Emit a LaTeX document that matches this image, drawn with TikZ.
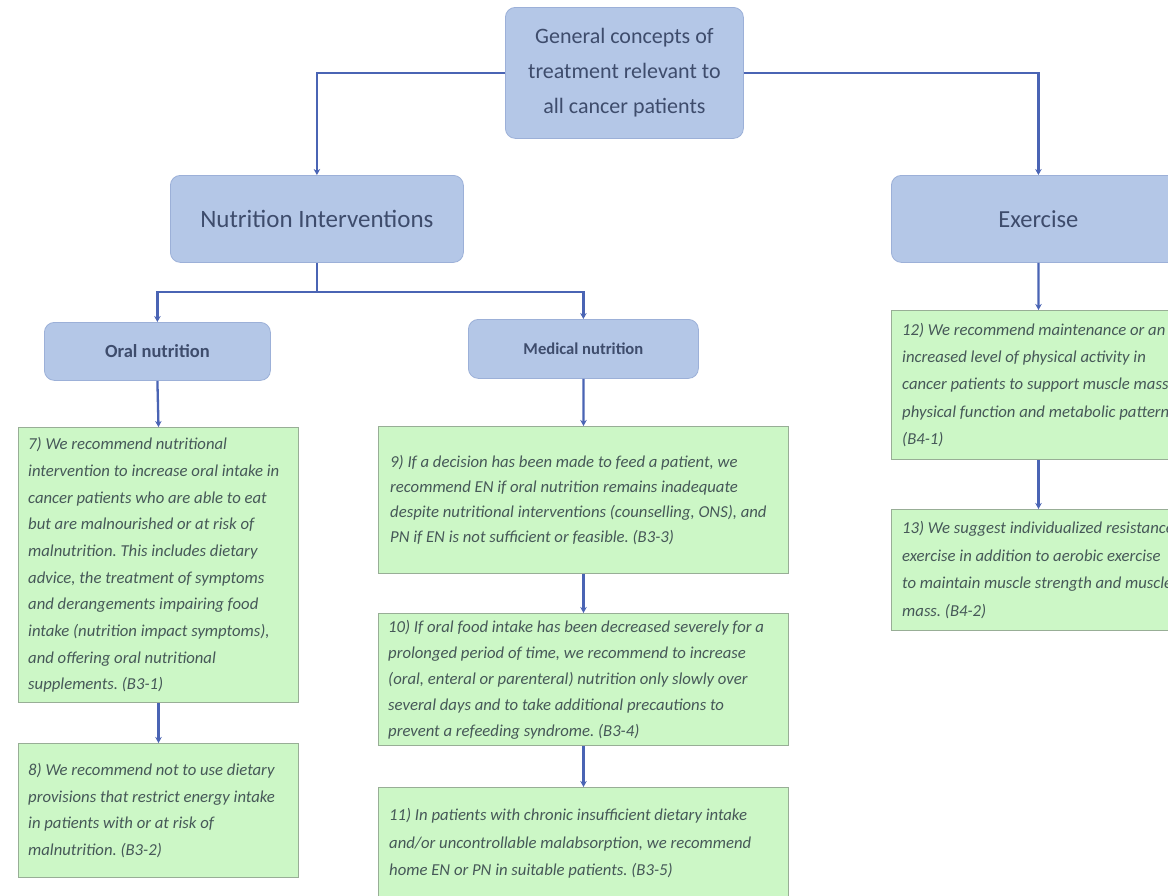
\documentclass[tikz,border=0pt]{standalone}
\usepackage{fontspec}
\setmainfont{Carlito}
\usetikzlibrary{arrows.meta}
\definecolor{bluefill}{HTML}{B4C7E7}
\definecolor{blueedge}{HTML}{9CB0D8}
\definecolor{bluetext}{HTML}{3E4C6C}
\definecolor{greenfill}{HTML}{CCF7C6}
\definecolor{greenedge}{HTML}{98AE96}
\definecolor{greentext}{HTML}{465858}
\definecolor{connblue}{HTML}{4A64B4}
\frenchspacing
\tikzset{
  bluebox/.style={draw=blueedge, line width=0.8pt, fill=bluefill, rounded corners=10pt,
    text=bluetext, align=center, inner sep=0pt, anchor=north west},
  greenbox/.style={draw=greenedge, line width=1pt, fill=greenfill, inner sep=0pt, anchor=north west},
  gtext/.style={text=greentext, align=left, inner sep=0pt, anchor=west},
  gfont/.style={font=\fontsize{16.7}{#1}\selectfont\itshape},
  conn/.style={draw=connblue, line width=2.3pt, -{Stealth[length=6pt,width=6.5pt]}},
}
\begin{document}
\begin{tikzpicture}[x=1pt,y=-1pt]
\useasboundingbox (0,0) rectangle (1168,895);
\clip (0,0) rectangle (1168,895);
\fill[white] (0,0) rectangle (1168,895);

% blue boxes
\node[bluebox, minimum width=238pt, minimum height=131pt, font=\fontsize{22}{35}\selectfont]
  (gen) at (505,7) {\rule{0pt}{6pt}General concepts of\\treatment relevant to\\all cancer patients};
\node[bluebox, minimum width=293pt, minimum height=87pt, font=\fontsize{25}{30}\selectfont]
  (nut) at (170,175) {Nutrition Interventions};
\node[bluebox, minimum width=294pt, minimum height=87pt, font=\fontsize{24.5}{30}\selectfont]
  (ex) at (891,175) {Exercise};
\node[bluebox, minimum width=226pt, minimum height=58pt, font=\fontsize{18.5}{22}\selectfont\bfseries]
  (oral) at (44,322) {Oral nutrition};
\node[bluebox, minimum width=230pt, minimum height=59pt, font=\fontsize{16.6}{20}\selectfont\bfseries]
  (med) at (468,319) {Medical nutrition};

% green boxes
\node[greenbox, minimum width=280pt, minimum height=275pt] (b7) at (18,427) {};
\node[greenbox, minimum width=280pt, minimum height=134pt] (b8) at (18,743) {};
\node[greenbox, minimum width=410pt, minimum height=147pt] (b9) at (378,426) {};
\node[greenbox, minimum width=410pt, minimum height=132pt] (b10) at (378,613) {};
\node[greenbox, minimum width=410pt, minimum height=112pt] (b11) at (378,787) {};
\node[greenbox, minimum width=294pt, minimum height=149pt] (b12) at (891,310) {};
\node[greenbox, minimum width=294pt, minimum height=121pt] (b13) at (891,509) {};

\node[gtext, gfont=26.7] (t7) at ([xshift=10pt]b7.west) {7) We recommend nutritional\\
intervention to increase oral intake in\\
cancer patients who are able to eat\\
but are malnourished or at risk of\\
malnutrition. This includes dietary\\
advice, the treatment of symptoms\\
and derangements impairing food\\
intake (nutrition impact symptoms),\\
and offering oral nutritional\\
supplements. (B3-1)};
\node[gtext, gfont=26.7] (t8) at ([xshift=10pt]b8.west) {8) We recommend not to use dietary\\
provisions that restrict energy intake\\
in patients with or at risk of\\
malnutrition. (B3-2)};
\node[gtext, gfont=25.3] (t9) at ([xshift=12pt]b9.west) {9) If a decision has been made to feed a patient, we\\
recommend EN if oral nutrition remains inadequate\\
despite nutritional interventions (counselling, ONS), and\\
PN if EN is not sufficient or feasible. (B3-3)};
\node[gtext, gfont=26] (t10) at ([xshift=10pt]b10.west) {10) If oral food intake has been decreased severely for a\\
prolonged period of time, we recommend to increase\\
(oral, enteral or parenteral) nutrition only slowly over\\
several days and to take additional precautions to\\
prevent a refeeding syndrome. (B3-4)};
\node[gtext, gfont=27.4] (t11) at ([xshift=11pt]b11.west) {11) In patients with chronic insufficient dietary intake\\
and/or uncontrollable malabsorption, we recommend\\
home EN or PN in suitable patients. (B3-5)};
\node[gtext, gfont=27.4] (t12) at ([xshift=11pt]b12.west) {12) We recommend maintenance or an\\
increased level of physical activity in\\
cancer patients to support muscle mass,\\
physical function and metabolic pattern.\\
(B4-1)};
\node[gtext, gfont=27.4] (t13) at ([xshift=11pt]b13.west) {13) We suggest individualized resistance\\
exercise in addition to aerobic exercise\\
to maintain muscle strength and muscle\\
mass. (B4-2)};

% connectors
\draw[conn] (gen.west) -| (nut.north);
\draw[conn] (gen.east) -| (ex.north);
\path (nut.south) ++(0,29) coordinate (split);
\draw[conn] (nut.south) -- (split) -| (oral.north);
\draw[conn] (split) -| (med.north);
\draw[conn] (oral.south) -- (b7.north);
\draw[conn] (b7.south) -- (b8.north);
\draw[conn] (med.south) -- (b9.north);
\draw[conn] (b9.south) -- (b10.north);
\draw[conn] (b10.south) -- (b11.north);
\draw[conn] (ex.south) -- (b12.north);
\draw[conn] (b12.south) -- (b13.north);
\end{tikzpicture}
\end{document}
